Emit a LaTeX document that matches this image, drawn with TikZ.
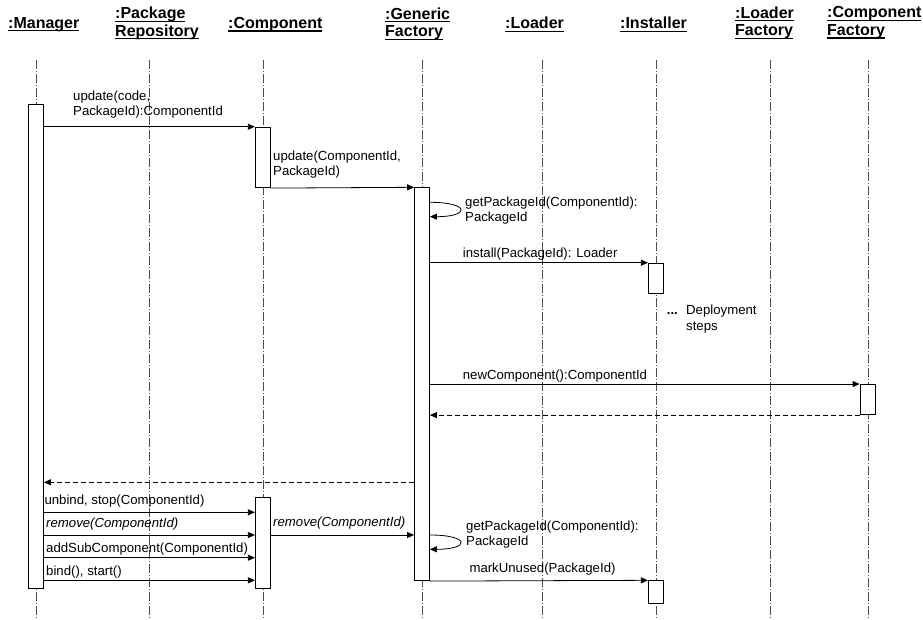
\documentclass[tikz,border=0pt]{standalone}
\usepackage{fontspec}
\setmainfont{Liberation Sans}
\usepackage{xcolor}
\usepackage{tikz}
\usetikzlibrary{arrows.meta,positioning,calc}
\definecolor{lifegray}{HTML}{4D4D4D}
\newsavebox{\hdbox}
\newcommand{\hdul}[1]{\sbox\hdbox{#1}\rlap{\rule[-3.2pt]{\wd\hdbox}{1.4pt}}\usebox\hdbox}

\begin{document}
\begin{tikzpicture}[
    x=1pt,y=-1pt,
    hdr/.style={anchor=north west,inner sep=0pt,align=left,font=\bfseries\fontsize{16}{17.5}\selectfont},
    lbl/.style={anchor=base west,inner sep=0pt,align=left,font=\fontsize{13.2}{15.6}\selectfont},
    act/.style={draw,fill=white,line width=0.8pt,minimum width=15pt,inner sep=0pt,anchor=north},
    life/.style={draw=lifegray,line width=0.7pt,dash pattern=on 9pt off 2pt on 1pt off 2pt},
    msg/.style={-{Triangle[length=7pt,width=6pt]},line width=0.8pt},
    ret/.style={msg,dash pattern=on 5pt off 3pt}
]
    \useasboundingbox (0,0) rectangle (923,620);

    \node[hdr] (hMgr) at (8,17) {\hdul{:Manager}};
    \node[hdr] (hPkg) at (115,7) {\hdul{:Package}\\\hdul{Repository}};
    \node[hdr] (hCmp) at (228,17) {\hdul{:Component}};
    \node[hdr] (hGF) at (385,7.5) {\hdul{:Generic}\\\hdul{Factory}};
    \node[hdr] (hLdr) at (505,17) {\hdul{:Loader}};
    \node[hdr] (hIns) at (620,17) {\hdul{:Installer}};
    \node[hdr] (hLFac) at (735,6.5) {\hdul{:Loader}\\\hdul{Factory}};
    \node[hdr] (hCFac) at (827,6.5) {\hdul{:Component}\\\hdul{Factory}};

    \foreach \nm/\lx in {Mgr/36,Pkg/149.3,Cmp/263,GF/422,Ldr/542.5,Ins/656,LFac/770,CFac/868}{
        \coordinate (life\nm) at (\lx,60);
        \draw[life] (life\nm) -- ++(0,559);
    }

    \node[act,minimum height=483.7pt] (actMgr) at (36,104) {};
    \node[act,minimum height=60.6pt] (actCmpA) at (262.8,126.7) {};
    \node[act,minimum height=393pt] (actGF) at (422,187.3) {};
    \node[act,minimum height=30.6pt] (actInsA) at (655.8,262.7) {};
    \node[act,minimum height=30.3pt] (actCFac) at (867.5,384) {};
    \node[act,minimum height=90.4pt] (actCmpB) at (262.8,497.3) {};
    \node[act,minimum height=23pt] (actInsB) at (655.8,580.3) {};

    \coordinate (yGetA) at (0,202.3);
    \coordinate (yGetB) at (0,216.7);
    \coordinate (yRet) at (0,482.3);
    \coordinate (yUnbind) at (0,512.3);
    \coordinate (yRemove) at (0,535);
    \coordinate (yAddSub) at (0,557.7);
    \coordinate (yBind) at (0,580.3);
    \coordinate (yGetC) at (0,535);
    \coordinate (yGetD) at (0,549.3);

    \draw[msg] (actMgr.east |- actCmpA.north) -- (actCmpA.north west);
    \draw[msg] (actCmpA.south east) -- (actGF.north west);
    \draw[msg] (actGF.east |- yGetA) .. controls +(40.4,0) and +(40.4,0) .. (actGF.east |- yGetB);
    \draw[msg] (actGF.east |- actInsA.north) -- (actInsA.north west);
    \draw[msg] (actGF.east |- actCFac.north) -- (actCFac.north west);
    \draw[ret] (actCFac.south west) -- (actGF.east |- actCFac.south);
    \draw[ret] (actGF.west |- yRet) -- (actMgr.east |- yRet);
    \draw[msg] (actMgr.east |- yUnbind) -- (actCmpB.west |- yUnbind);
    \draw[msg] (actMgr.east |- yRemove) -- (actCmpB.west |- yRemove);
    \draw[msg] (actMgr.east |- yAddSub) -- (actCmpB.west |- yAddSub);
    \draw[msg] (actMgr.east |- yBind) -- (actCmpB.west |- yBind);
    \draw[msg] (actCmpB.east |- yRemove) -- (actGF.west |- yRemove);
    \draw[msg] (actGF.east |- yGetC) .. controls +(40.4,0) and +(40.4,0) .. (actGF.east |- yGetD);
    \draw[msg] (actGF.south east) -- (actInsB.north west);

    \node[lbl] (lUpdA) at (73,115.7) {update(code,\\PackageId):ComponentId};
    \node[lbl] (lUpdB) at (273,176) {update(ComponentId,\\PackageId)};
    \node[lbl] (lGetA) at (465,221.7) {getPackageId(ComponentId):\\PackageId};
    \node[lbl] (lInstall) at (462.7,257.5) {install(PackageId): Loader};
    \node[lbl] (lDots) at (666.7,314.3) {\textbf{...}};
    \node[lbl] (lDeploy) at (686,330) {Deployment\\steps};
    \node[lbl] (lNewComp) at (462.7,379) {newComponent():ComponentId};
    \node[lbl] (lUnbind) at (44.3,504.3) {unbind, stop(ComponentId)};
    \node[lbl] (lRemoveA) at (46,527.3) {\itshape remove(ComponentId)};
    \node[lbl] (lAddSub) at (46,552.3) {addSubComponent(ComponentId)};
    \node[lbl] (lBind) at (46,575.7) {bind(), start()};
    \node[lbl] (lRemoveB) at (273,526) {\itshape remove(ComponentId)};
    \node[lbl] (lGetB) at (466,545.7) {getPackageId(ComponentId):\\PackageId};
    \node[lbl] (lMark) at (469.3,572.3) {markUnused(PackageId)};
\end{tikzpicture}
\end{document}
